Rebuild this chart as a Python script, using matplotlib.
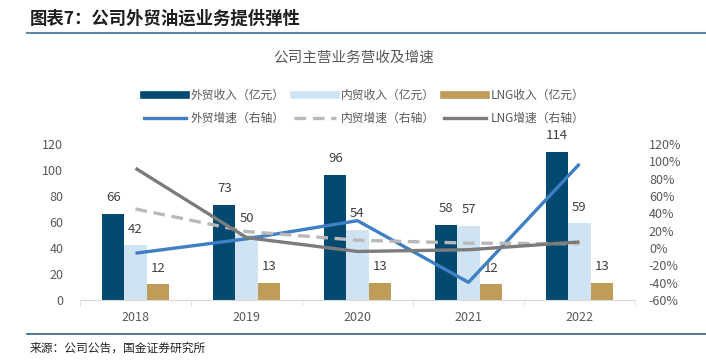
import numpy as np
import matplotlib
matplotlib.use("Agg")
import matplotlib.pyplot as plt
from matplotlib.lines import Line2D
from matplotlib.ticker import FuncFormatter, FixedLocator

plt.rcParams['font.family'] = ['Noto Sans CJK SC', 'DejaVu Sans']

years = ['2018', '2019', '2020', '2021', '2022']
waimao = [66, 73, 96, 58, 114]
neimao = [42, 50, 54, 57, 59]
lng = [12, 13, 13, 12, 13]
waimao_g = [-6, 10.6, 31.5, -39.6, 97]
neimao_g = [45, 19, 9, 5.6, 5]
lng_g = [92, 12, -4, -2, 7]

c_wm = '#044a70'
c_nm = '#d0e3f3'
c_lng = '#bf9c58'
c_wm_l = '#3f7fc3'
c_nm_l = '#b9b9b9'
c_lng_l = '#7b7b7b'
txt = '#595959'

fig = plt.figure(figsize=(7.06, 3.64), dpi=100)

# header / footer
fig.text(30/706, 1-19/364, '图表7：公司外贸油运业务提供弹性', fontsize=12.5, fontweight='bold',
         color='#1e1e1e', va='center', ha='left')
fig.add_artist(Line2D([27/706, 1], [1-33/364]*2, color='#5d88aa', lw=1.5))
fig.add_artist(Line2D([27/706, 1], [1-334/364]*2, color='#2f5f86', lw=1.2))
fig.text(30/706, 1-348/364, '来源：公司公告，国金证券研究所', fontsize=8.5, color='#222222',
         va='center', ha='left')
fig.text(354/706, 1-58/364, '公司主营业务营收及增速', fontsize=10.5, color=txt,
         va='center', ha='center')

ax = fig.add_axes([80/706, 64/364, 555/706, 156/364])
x = np.arange(len(years))
w = 0.2
b1 = ax.bar(x - w, waimao, w, color=c_wm)
b2 = ax.bar(x, neimao, w, color=c_nm)
b3 = ax.bar(x + w, lng, w, color=c_lng)
for bars, vals in [(b1, waimao), (b2, neimao), (b3, lng)]:
    for r, v in zip(bars, vals):
        ax.annotate(str(v), (r.get_x() + r.get_width()/2, r.get_height()),
                    xytext=(0, 7), textcoords='offset points', ha='center', va='bottom',
                    fontsize=9.5, color='#404040')

ax.set_xlim(-0.5, 4.5)
ax.set_ylim(0, 120)
ax.set_yticks(range(0, 121, 20))
ax.set_xticks(x)
ax.set_xticklabels(years)
ax.xaxis.set_minor_locator(FixedLocator(np.arange(-0.5, 4.6, 1)))
ax.tick_params(axis='x', which='major', length=0, pad=8, labelsize=9, labelcolor=txt)
ax.tick_params(axis='x', which='minor', length=4, color='#d9d9d9')
ax.tick_params(axis='y', length=0, pad=12, labelsize=9, labelcolor=txt)
for s in ['top', 'right', 'left']:
    ax.spines[s].set_visible(False)
ax.spines['bottom'].set_color('#d9d9d9')

ax2 = ax.twinx()
ax2.plot(x, waimao_g, color=c_wm_l, lw=2.4, solid_capstyle='butt')
ax2.plot(x, neimao_g, color=c_nm_l, lw=2.4, dashes=(3.5, 2))
ax2.plot(x, lng_g, color=c_lng_l, lw=2.4, solid_capstyle='butt')
ax2.set_ylim(-60, 120)
ax2.set_yticks(range(-60, 121, 20))
ax2.yaxis.set_major_formatter(FuncFormatter(lambda v, p: '%d%%' % v))
ax2.tick_params(axis='y', length=0, pad=10, labelsize=9, labelcolor=txt)
for s in ['top', 'right', 'left', 'bottom']:
    ax2.spines[s].set_visible(False)

handles = [
    Line2D([], [], color=c_wm, lw=5.5), Line2D([], [], color=c_wm_l, lw=2.4),
    Line2D([], [], color=c_nm, lw=5.5), Line2D([], [], color=c_nm_l, lw=2.4, dashes=(3.5, 2)),
    Line2D([], [], color=c_lng, lw=5.5), Line2D([], [], color=c_lng_l, lw=2.4),
]
labels = ['外贸收入（亿元）', '外贸增速（右轴）', '内贸收入（亿元）', '内贸增速（右轴）',
          'LNG收入（亿元）', 'LNG增速（右轴）']
fig.legend(handles, labels, ncol=3, loc='upper left', bbox_to_anchor=(144/706, 1-89/364),
           frameon=False, fontsize=8.5, labelcolor=txt, handlelength=3.55,
           handletextpad=0.4, columnspacing=0.8, labelspacing=0.85,
           borderpad=0, borderaxespad=0)

fig.savefig('out.png', dpi=100)
